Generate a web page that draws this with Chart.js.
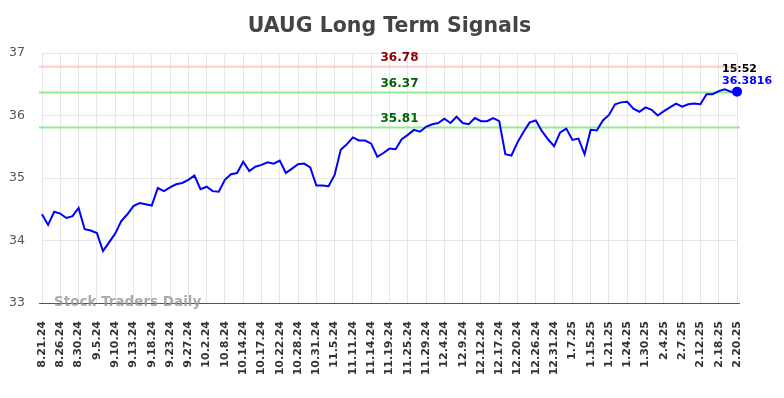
<!DOCTYPE html>
<html lang="en">
<head>
  <meta charset="UTF-8">
  <title>UAUG Long Term Signals</title>
  <script src="https://cdn.jsdelivr.net/npm/chart.js"></script>
  <style>
    html, body { margin: 0; padding: 0; background: #fff; }
    #wrap { width: 784px; height: 398px; }
  </style>
</head>
<body>
  <div id="wrap"><canvas id="chart" width="784" height="398"></canvas></div>

  <script>
    // tick labels shown on the x axis (every 3rd point)
    const tickLabels = ['8.21.24', '8.26.24', '8.30.24', '9.5.24', '9.10.24', '9.13.24', '9.18.24', '9.23.24',
      '9.27.24', '10.2.24', '10.8.24', '10.14.24', '10.17.24', '10.22.24', '10.28.24', '10.31.24', '11.5.24',
      '11.11.24', '11.14.24', '11.19.24', '11.25.24', '11.29.24', '12.4.24', '12.9.24', '12.12.24', '12.17.24',
      '12.20.24', '12.26.24', '12.31.24', '1.7.25', '1.15.25', '1.21.25', '1.24.25', '1.30.25', '2.4.25',
      '2.7.25', '2.12.25', '2.18.25', '2.20.25'];

    const prices = [34.42, 34.25, 34.46, 34.43, 34.36, 34.39, 34.52, 34.18, 34.16, 34.12,
      33.83, 33.97, 34.11, 34.31, 34.42, 34.55, 34.60, 34.58, 34.56, 34.84,
      34.79, 34.85, 34.90, 34.92, 34.97, 35.04, 34.82, 34.86, 34.79, 34.78,
      34.97, 35.06, 35.08, 35.26, 35.11, 35.18, 35.21, 35.25, 35.23, 35.28,
      35.08, 35.15, 35.22, 35.23, 35.17, 34.88, 34.88, 34.87, 35.05, 35.45,
      35.54, 35.65, 35.60, 35.60, 35.55, 35.34, 35.40, 35.47, 35.46, 35.62,
      35.69, 35.77, 35.74, 35.82, 35.86, 35.88, 35.95, 35.88, 35.98, 35.88,
      35.86, 35.96, 35.91, 35.91, 35.96, 35.91, 35.38, 35.36, 35.57, 35.74,
      35.89, 35.92, 35.75, 35.62, 35.51, 35.73, 35.79, 35.61, 35.63, 35.38,
      35.77, 35.76, 35.92, 36.01, 36.18, 36.21, 36.22, 36.11, 36.06, 36.13,
      36.09, 36.00, 36.07, 36.13, 36.19, 36.14, 36.18, 36.19, 36.18, 36.34,
      36.34, 36.39, 36.42, 36.38, 36.3816];

    const yTicks = [33, 34, 35, 36, 37];
    const resistance = [36.78];
    const support = [36.37, 35.81];
    const lastTime = '15:52';
    const title = 'UAUG Long Term Signals';

    const STEP = 3;
    const labels = prices.map((p, i) => i % STEP === 0 ? tickLabels[i / STEP] : '');
    const lastIdx = prices.length - 1;

    // title, horizontal signal lines, their labels, watermark and last-price note
    const overlay = {
      id: 'overlay',
      beforeDatasetsDraw(chart) {
        const { ctx, chartArea: a, scales: { x, y } } = chart;
        const cx = (a.left + a.right) / 2 + 10;
        ctx.save();
        // title, centred over the plot
        ctx.font = 'bold 20.5px "DejaVu Sans"';
        ctx.fillStyle = '#444';
        ctx.textAlign = 'center';
        ctx.textBaseline = 'middle';
        ctx.fillText(title, (a.left + a.right) / 2, 27);

        ctx.lineWidth = 2;
        ctx.font = 'bold 12px "DejaVu Sans"';
        ctx.textBaseline = 'bottom';
        resistance.forEach(v => {
          const py = y.getPixelForValue(v);
          ctx.strokeStyle = '#ffcccc';
          ctx.beginPath(); ctx.moveTo(a.left - 3, py); ctx.lineTo(a.right + 3, py); ctx.stroke();
          ctx.fillStyle = '#8b0000';
          ctx.fillText(v.toFixed(2), cx, py - 3);
        });
        support.forEach(v => {
          const py = y.getPixelForValue(v);
          ctx.strokeStyle = '#90ee90';
          ctx.beginPath(); ctx.moveTo(a.left - 3, py); ctx.lineTo(a.right + 3, py); ctx.stroke();
          ctx.fillStyle = '#006400';
          ctx.fillText(v.toFixed(2), cx, py - 3);
        });
        // bottom axis line
        ctx.strokeStyle = '#555';
        ctx.lineWidth = 1;
        ctx.beginPath(); ctx.moveTo(a.left - 3, a.bottom + 0.5); ctx.lineTo(a.right + 3, a.bottom + 0.5); ctx.stroke();
        // watermark
        ctx.font = 'bold 13.5px "DejaVu Sans"';
        ctx.textAlign = 'left';
        ctx.textBaseline = 'middle';
        ctx.fillStyle = 'rgba(150,150,150,0.8)';
        ctx.fillText('Stock Traders Daily', a.left + 12, a.bottom - 1);
        ctx.restore();
      },
      afterDatasetsDraw(chart) {
        const { ctx, scales: { x, y } } = chart;
        const px = x.getPixelForValue(lastIdx) - 15;
        const py = y.getPixelForValue(prices[lastIdx]);
        ctx.save();
        ctx.font = 'bold 11px "DejaVu Sans"';
        ctx.textAlign = 'left';
        ctx.textBaseline = 'middle';
        ctx.fillStyle = '#000';
        ctx.fillText(lastTime, px, py - 23);
        ctx.fillStyle = '#0000ff';
        ctx.fillText(String(prices[lastIdx]), px, py - 11);
        ctx.restore();
      }
    };

    new Chart(document.getElementById('chart'), {
      type: 'line',
      data: {
        labels: labels,
        datasets: [{
          data: prices,
          borderColor: '#0000ff',
          backgroundColor: '#0000ff',
          borderWidth: 2,
          tension: 0,
          pointRadius: c => c.dataIndex === lastIdx ? 4 : 0,
          pointHoverRadius: 0
        }]
      },
      options: {
        responsive: false,
        animation: false,
        layout: { padding: { left: 0, right: 47, top: 53, bottom: 0 } },
        plugins: {
          legend: { display: false },
          tooltip: { enabled: false },
          title: { display: false }
        },
        scales: {
          x: {
            offset: false,
            grid: { color: '#e6e6e6', drawTicks: false },
            border: { display: false },
            ticks: {
              autoSkip: false,
              minRotation: 90,
              maxRotation: 90,
              padding: 18,
              color: '#333',
              font: { family: '"DejaVu Sans"', size: 11, weight: 'bold' },
              callback: (v, i) => i % STEP === 0 ? tickLabels[i / STEP] : null
            },
            afterFit: s => { s.height = 95; }
          },
          y: {
            min: yTicks[0],
            max: yTicks[yTicks.length - 1],
            afterBuildTicks: s => { s.ticks = yTicks.map(v => ({ value: v })); },
            grid: { color: '#e6e6e6', drawTicks: false },
            border: { display: false },
            ticks: {
              padding: 17,
              color: '#555',
              font: { family: '"DejaVu Sans"', size: 12.5 }
            },
            afterFit: s => { s.width = 42; }
          }
        }
      },
      plugins: [overlay]
    });
  </script>
</body>
</html>
